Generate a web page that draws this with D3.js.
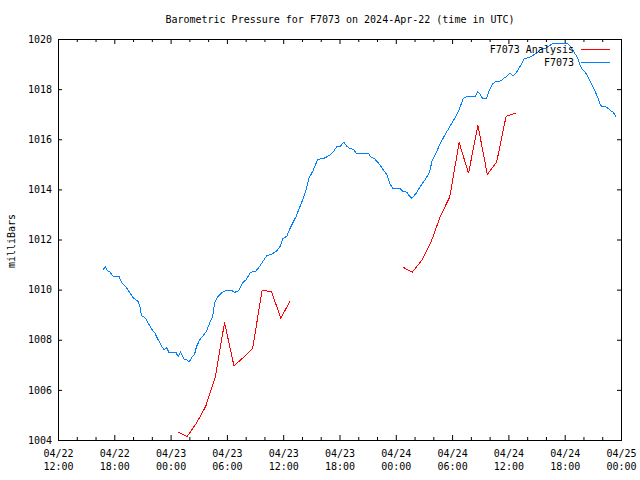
<!DOCTYPE html>
<html><head><meta charset="utf-8">
<script src="https://cdn.jsdelivr.net/npm/d3@7"></script>
<style>
html,body{margin:0;padding:0;background:#fff;}
svg text{font-family:"DejaVu Sans Mono",monospace;font-size:10px;fill:#000;}
</style></head>
<body><svg id="c" width="640" height="480"></svg>
<script>
// ---- data ----
const title = "Barometric Pressure for F7073 on 2024-Apr-22 (time in UTC)";
const yLabel = "milliBars";
const startTime = Date.UTC(2024, 3, 22, 12, 0); // 04/22 12:00 UTC
const endTime = Date.UTC(2024, 3, 25, 0, 0);    // 04/25 00:00 UTC
const yTicks = [1004, 1006, 1008, 1010, 1012, 1014, 1016, 1018, 1020];
const seriesNames = ["F7073 Analysis", "F7073"];
const seriesColors = ["#ff0000", "#0080ff"];

// hours since 04/22 12:00 UTC and pressure (mb) of the observed station series
const obsHours = [4.82,5.03,5.24,5.53,5.88,6.52,6.78,7.31,7.66,8.01,8.54,8.72,8.90,9.26,9.61,9.97,10.32,10.67,11.03,11.28,11.56,11.81,12.55,12.80,13.05,13.40,13.69,13.97,14.22,14.57,14.76,15.11,15.46,15.82,16.17,16.49,16.70,17.05,17.48,17.95,18.48,18.83,19.29,19.71,20.07,20.50,21.06,21.49,21.84,22.27,22.73,23.27,23.69,23.97,24.39,24.68,25.03,25.39,25.74,26.10,26.46,26.73,27.16,27.69,28.30,28.94,29.29,29.71,30.07,30.46,30.78,31.14,31.49,31.78,33.12,33.27,33.72,34.26,34.61,35.03,35.32,35.67,36.46,36.73,37.16,37.45,37.71,38.16,38.69,39.22,39.57,39.86,40.29,40.64,41.17,41.70,42.23,42.77,43.19,43.65,44.47,44.71,44.97,45.24,45.67,45.88,46.31,46.60,47.20,47.55,47.90,48.16,48.51,48.86,49.33,49.68,50.21,50.56,51.10,51.46,51.99,52.34,52.87,54.29,54.65,55.00,55.35,55.53,55.82,56.17,56.41,56.78,57.13,57.37,57.59,57.84,58.30,58.65,58.90,59.15,59.44];
const obsPressure = [1010.80,1010.91,1010.76,1010.71,1010.53,1010.51,1010.29,1010.07,1009.87,1009.67,1009.53,1009.33,1008.96,1008.89,1008.67,1008.43,1008.27,1008.00,1007.76,1007.60,1007.69,1007.51,1007.51,1007.33,1007.51,1007.24,1007.20,1007.11,1007.27,1007.44,1007.73,1008.00,1008.16,1008.33,1008.67,1008.94,1009.47,1009.73,1009.89,1009.97,1009.97,1009.89,1009.97,1010.29,1010.40,1010.69,1010.73,1010.93,1011.13,1011.37,1011.40,1011.53,1011.73,1012.03,1012.13,1012.40,1012.67,1012.93,1013.27,1013.60,1014.00,1014.43,1014.73,1015.20,1015.23,1015.36,1015.47,1015.71,1015.71,1015.89,1015.71,1015.63,1015.60,1015.44,1015.44,1015.31,1015.23,1015.00,1014.80,1014.60,1014.27,1014.03,1014.03,1013.93,1013.89,1013.73,1013.64,1013.84,1014.16,1014.44,1014.67,1015.12,1015.44,1015.76,1016.13,1016.47,1016.80,1017.20,1017.63,1017.71,1017.71,1017.89,1017.80,1017.63,1017.63,1017.87,1018.20,1018.29,1018.33,1018.44,1018.53,1018.64,1018.53,1018.67,1018.96,1019.20,1019.27,1019.33,1019.47,1019.60,1019.63,1019.73,1019.84,1019.84,1019.67,1019.47,1019.27,1019.07,1018.80,1018.69,1018.53,1018.27,1018.00,1017.80,1017.60,1017.33,1017.31,1017.23,1017.13,1017.09,1016.91];

// analysis series (two separate runs), hours since 04/22 12:00 UTC
const anaHours1 = [12.75,13.75,14.75,15.75,16.75,17.75,18.75,19.75,20.75,21.75,22.75,23.75,24.75];
const anaPressure1 = [1004.33,1004.13,1004.67,1005.35,1006.49,1008.69,1006.96,1007.29,1007.67,1009.97,1009.92,1008.86,1009.56];
const anaHours2 = [36.75,37.75,38.75,39.75,40.75,41.75,42.75,43.75,44.75,45.75,46.75,47.75,48.75];
const anaPressure2 = [1010.90,1010.69,1011.16,1011.89,1012.93,1013.70,1015.87,1014.64,1016.56,1014.60,1015.09,1016.91,1017.04];

// ---- chart ----
const H = 3600e3;
const toDate = h => new Date(startTime + h * H);
const svg = d3.select("#c");
const x = d3.scaleUtc().domain([new Date(startTime), new Date(endTime)]).range([58, 621]);
const y = d3.scaleLinear().domain([1004, 1020]).range([440, 39]);

const majorX = d3.range(startTime, endTime + 1, 6 * H).map(t => new Date(t));
const minorX = d3.range(startTime, endTime + 1, 2 * H).map(t => new Date(t)).filter(d => (d - startTime) % (6 * H) !== 0);

function clean(g){ g.select(".domain").remove(); g.selectAll(".tick line").attr("stroke","#000"); }

// bottom axis
const gB = svg.append("g").attr("transform","translate(0,440)")
  .call(d3.axisBottom(x).tickValues(majorX).tickSize(-5).tickFormat(d3.utcFormat("%m/%d"))).call(clean);
gB.selectAll(".tick text").each(function(d){
  const t = d3.select(this); t.text(null).attr("y", 17).attr("dy", null);
  t.append("tspan").attr("x", 0).text(d3.utcFormat("%m/%d")(d));
  t.append("tspan").attr("x", 0).attr("dy", 13).text(d3.utcFormat("%H:%M")(d));
});
svg.append("g").attr("transform","translate(0,440)")
  .call(d3.axisBottom(x).tickValues(minorX).tickSize(-3).tickFormat("")).call(clean);
// top axis
svg.append("g").attr("transform","translate(0,39)")
  .call(d3.axisTop(x).tickValues(majorX).tickSize(-5).tickFormat("")).call(clean);
svg.append("g").attr("transform","translate(0,39)")
  .call(d3.axisTop(x).tickValues(minorX).tickSize(-3).tickFormat("")).call(clean);
// left axis
svg.append("g").attr("transform","translate(58,0)")
  .call(d3.axisLeft(y).tickValues(yTicks).tickSize(-4).tickPadding(6).tickFormat(d3.format("d"))).call(clean);
// right axis
svg.append("g").attr("transform","translate(621,0)")
  .call(d3.axisRight(y).tickValues(yTicks).tickSize(-4).tickFormat("")).call(clean);

// frame
svg.append("rect").attr("x", 58.5).attr("y", 39.5).attr("width", 563).attr("height", 401)
  .attr("fill","none").attr("stroke","#000").attr("stroke-width",1).attr("shape-rendering","crispEdges");

// title & y label
svg.append("text").attr("x", 340).attr("y", 23).attr("text-anchor","middle").text(title);
svg.append("text").attr("transform","translate(15,241) rotate(-90)").attr("text-anchor","middle").text(yLabel);

// lines
const line = d3.line().x(d => x(toDate(d[0]))).y(d => y(d[1]));
const zip = (a, b) => a.map((v, i) => [v, b[i]]);
const plot = svg.append("g").attr("shape-rendering","crispEdges");
[zip(anaHours1, anaPressure1), zip(anaHours2, anaPressure2)].forEach(seg => {
  plot.append("path").attr("d", line(seg)).attr("fill","none").attr("stroke", seriesColors[0]).attr("stroke-width",1);
});
plot.append("path").attr("d", line(zip(obsHours, obsPressure))).attr("fill","none").attr("stroke", seriesColors[1]).attr("stroke-width",1);

// legend
seriesNames.forEach((n, i) => {
  const ly = 49.5 + i * 13;
  svg.append("text").attr("x", 574).attr("y", ly + 3.5).attr("text-anchor","end").text(n);
  svg.append("line").attr("x1", 581).attr("x2", 610).attr("y1", ly).attr("y2", ly)
    .attr("stroke", seriesColors[i]).attr("stroke-width",1).attr("shape-rendering","crispEdges");
});
</script></body></html>
